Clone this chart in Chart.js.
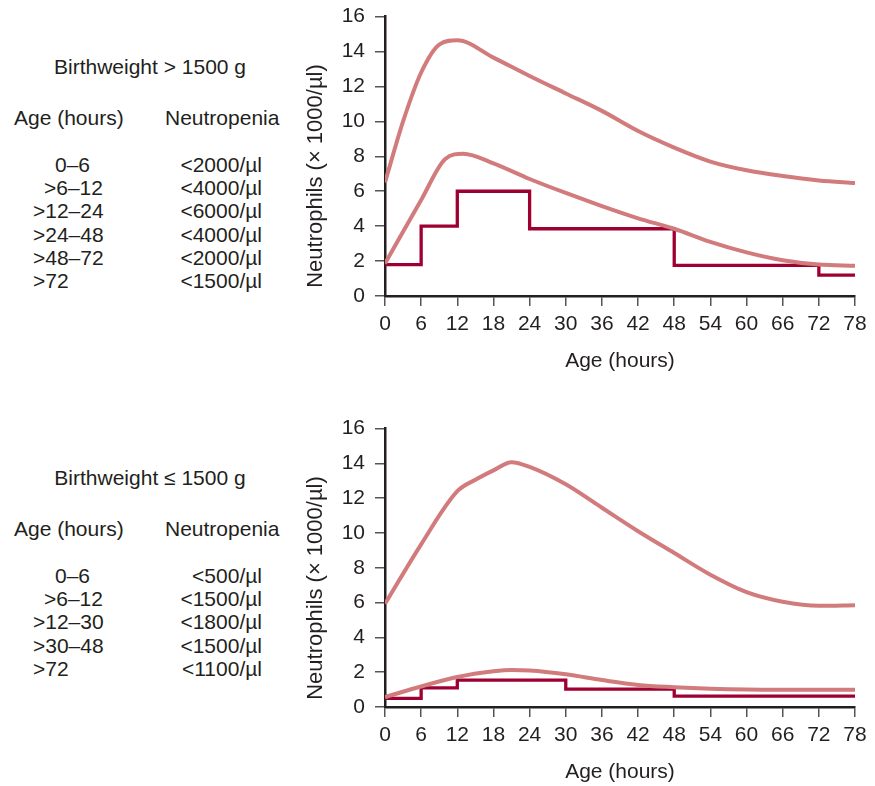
<!DOCTYPE html>
<html>
<head>
<meta charset="utf-8">
<script src="https://cdn.jsdelivr.net/npm/chart.js@4"></script>
<style>
  body { margin: 0; background: #fff; width: 875px; height: 786px; overflow: hidden; position: relative; font-family: "Liberation Sans", Arial, sans-serif; color: #231f20; }
  .chart { position: absolute; left: 296px; width: 579px; }
  .t { position: absolute; font-size: 21px; white-space: nowrap; line-height: 1; }
  .ytitle { position: absolute; font-size: 22px; white-space: nowrap; line-height: 1; transform: translate(-50%, -50%) rotate(-90deg); }
</style>
</head>
<body>
<div id="tables"></div>
<div class="chart" style="top:-6px;height:382px"><canvas id="chartTop"></canvas></div>
<div class="chart" style="top:406px;height:381px"><canvas id="chartBottom"></canvas></div>
<script>
// x ticks in hours, y in 1000/ul
const hourTicks = [0, 6, 12, 18, 24, 30, 36, 42, 48, 54, 60, 66, 72, 78];

// Birthweight > 1500 g
const heavyUpperHours = [0, 3, 6, 9, 12, 18, 24, 30, 36, 42, 48, 54, 60, 66, 72, 78];
const heavyUpper = [6.5, 10.0, 12.8, 14.4, 14.65, 13.65, 12.6, 11.6, 10.6, 9.45, 8.5, 7.7, 7.2, 6.87, 6.62, 6.47];
const heavyLowerHours = [0, 6, 10, 13, 18, 24, 30, 36, 42, 48, 54, 60, 66, 72, 78];
const heavyLower = [1.86, 5.5, 7.85, 8.15, 7.6, 6.7, 5.9, 5.15, 4.45, 3.85, 3.1, 2.5, 2.05, 1.8, 1.73];
// each step value holds from the previous hour up to its own hour
const heavyStepHours = [0, 6, 12, 24, 48, 72, 78];
const heavyStep = [1.8, 1.8, 4, 6, 3.85, 1.75, 1.2];

// Birthweight <= 1500 g
const lightUpperHours = [0, 6, 12, 15, 18, 21, 24, 30, 36, 42, 48, 54, 60, 66, 72, 78];
const lightUpper = [5.93, 9.35, 12.4, 13.06, 13.6, 14.07, 13.8, 12.8, 11.45, 10.1, 8.85, 7.6, 6.6, 6.05, 5.82, 5.85];
const lightLowerHours = [0, 6, 12, 18, 21, 24, 30, 36, 42, 48, 54, 60, 66, 72, 78];
const lightLower = [0.57, 1.18, 1.72, 2.05, 2.13, 2.1, 1.88, 1.55, 1.27, 1.14, 1.05, 1.0, 0.99, 0.99, 0.99];
const lightStepHours = [0, 6, 12, 30, 48, 78];
const lightStep = [0.5, 0.5, 1.1, 1.55, 1.03, 0.63];

const heavyTitle = "Birthweight > 1500 g";
const heavyAges = ["0\u20136", ">6\u201312", ">12\u201324", ">24\u201348", ">48\u201372", ">72"];
const heavyLimits = ["<2000/\u00b5l", "<4000/\u00b5l", "<6000/\u00b5l", "<4000/\u00b5l", "<2000/\u00b5l", "<1500/\u00b5l"];
const lightTitle = "Birthweight \u2264 1500 g";
const lightAges = ["0\u20136", ">6\u201312", ">12\u201330", ">30\u201348", ">72"];
const lightLimits = ["<500/\u00b5l", "<1500/\u00b5l", "<1800/\u00b5l", "<1500/\u00b5l", "<1100/\u00b5l"];
const yTitle = "Neutrophils (\u00d7 1000/\u00b5l)";

const curveColor = "#d27b7c";
const stepColor = "#9e0032";
const ink = "#231f20";

function pts(xs, ys) {
  return xs.map((x, i) => ({ x: x, y: ys[i] }));
}

// left-hand tables
function addText(txt, x, y, align) {
  const d = document.createElement("div");
  d.className = "t";
  d.textContent = txt;
  d.style.top = (y - 11) + "px";
  if (align === "right") {
    d.style.right = (875 - x) + "px";
  } else if (align === "center") {
    d.style.left = x + "px";
    d.style.transform = "translateX(-50%)";
  } else {
    d.style.left = x + "px";
  }
  document.getElementById("tables").appendChild(d);
}

function addTable(title, ages, limits, top) {
  addText(title, 150, top, "center");
  addText("Age (hours)", 14, top + 51, "left");
  addText("Neutropenia", 165, top + 51, "left");
  ages.forEach((a, i) => {
    const y = top + 98 + i * 23.2;
    let x = 33;
    if (a.startsWith("0")) x = 55;
    else if (a.startsWith(">6")) x = 44;
    addText(a, x, y, "left");
    addText(limits[i], 262, y, "right");
  });
}
addTable(heavyTitle, heavyAges, heavyLimits, 67);
addTable(lightTitle, lightAges, lightLimits, 478);

// y-axis titles sit a bit below the middle of the axis, as in the original
function addYTitle(cy) {
  const d = document.createElement("div");
  d.className = "ytitle";
  d.textContent = yTitle;
  d.style.left = "315px";
  d.style.top = cy + "px";
  document.body.appendChild(d);
}
addYTitle(176);
addYTitle(588);

function makeChart(id, upper, lower, step) {
  new Chart(document.getElementById(id), {
    type: "line",
    data: {
      datasets: [
        { data: upper, borderColor: curveColor, borderWidth: 4, cubicInterpolationMode: "monotone", pointRadius: 0 },
        { data: lower, borderColor: curveColor, borderWidth: 4, cubicInterpolationMode: "monotone", pointRadius: 0 },
        { data: step, borderColor: stepColor, borderWidth: 3.3, stepped: "after", pointRadius: 0 }
      ]
    },
    options: {
      responsive: true,
      maintainAspectRatio: false,
      animation: false,
      events: [],
      layout: { padding: { top: 8, right: 20, left: 0, bottom: 0 } },
      plugins: { legend: { display: false }, tooltip: { enabled: false } },
      scales: {
        x: {
          type: "linear",
          min: 0, max: 78,
          afterBuildTicks: (s) => { s.ticks = hourTicks.map(v => ({ value: v })); },
          afterFit: (s) => { s.height = 80; },
          grid: { drawOnChartArea: false, tickLength: 10, color: "#555", lineWidth: 1.5 },
          border: { color: ink, width: 2.5 },
          ticks: { color: ink, padding: 6, font: { family: "Liberation Sans", size: 21 } },
          title: { display: true, text: "Age (hours)", color: ink, padding: { top: 0, bottom: 2 }, font: { family: "Liberation Sans", size: 21 } }
        },
        y: {
          min: 0, max: 16,
          ticks: { stepSize: 2, color: ink, padding: 10, font: { family: "Liberation Sans", size: 21 } },
          afterFit: (s) => { s.width = 89; },
          grid: { drawOnChartArea: false, tickLength: 10, color: "#555", lineWidth: 1.5 },
          border: { color: ink, width: 2.5 },
          title: { display: false }
        }
      }
    }
  });
}

makeChart("chartTop", pts(heavyUpperHours, heavyUpper), pts(heavyLowerHours, heavyLower), pts(heavyStepHours, heavyStep));
makeChart("chartBottom", pts(lightUpperHours, lightUpper), pts(lightLowerHours, lightLower), pts(lightStepHours, lightStep));
</script>
</body>
</html>
